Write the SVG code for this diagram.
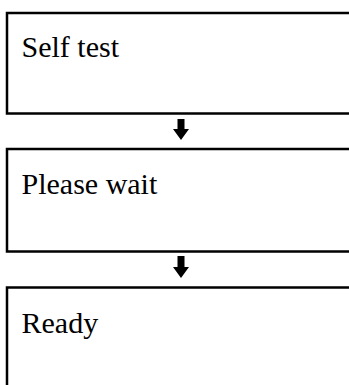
<svg xmlns="http://www.w3.org/2000/svg" width="349" height="385" viewBox="0 0 349 385">
<style>
.box{fill:#fff;stroke:#000;stroke-width:2.5}
.lbl{font-family:"Liberation Serif","Times New Roman",serif;font-size:30px;fill:#000}
.arr{fill:#000}
</style>
<rect width="349" height="385" fill="#fff"/>
<g id="node-selftest">
<rect class="box" x="7" y="13" width="360" height="100.5"/>
<text class="lbl" x="21.5" y="57">Self test</text>
</g>
<g id="node-pleasewait">
<rect class="box" x="7" y="149" width="360" height="102.5"/>
<text class="lbl" x="21.5" y="194">Please wait</text>
</g>
<g id="node-ready">
<rect class="box" x="7" y="287.5" width="360" height="120"/>
<text class="lbl" x="21.5" y="333">Ready</text>
</g>
<g id="connectors">
<path class="arr" d="M177.5,119 H184.5 V129 H189 L181,140 L173,129 H177.5 Z"/>
<path class="arr" d="M177.5,256 H184.5 V267 H189 L181,278 L173,267 H177.5 Z"/>
</g>
</svg>
